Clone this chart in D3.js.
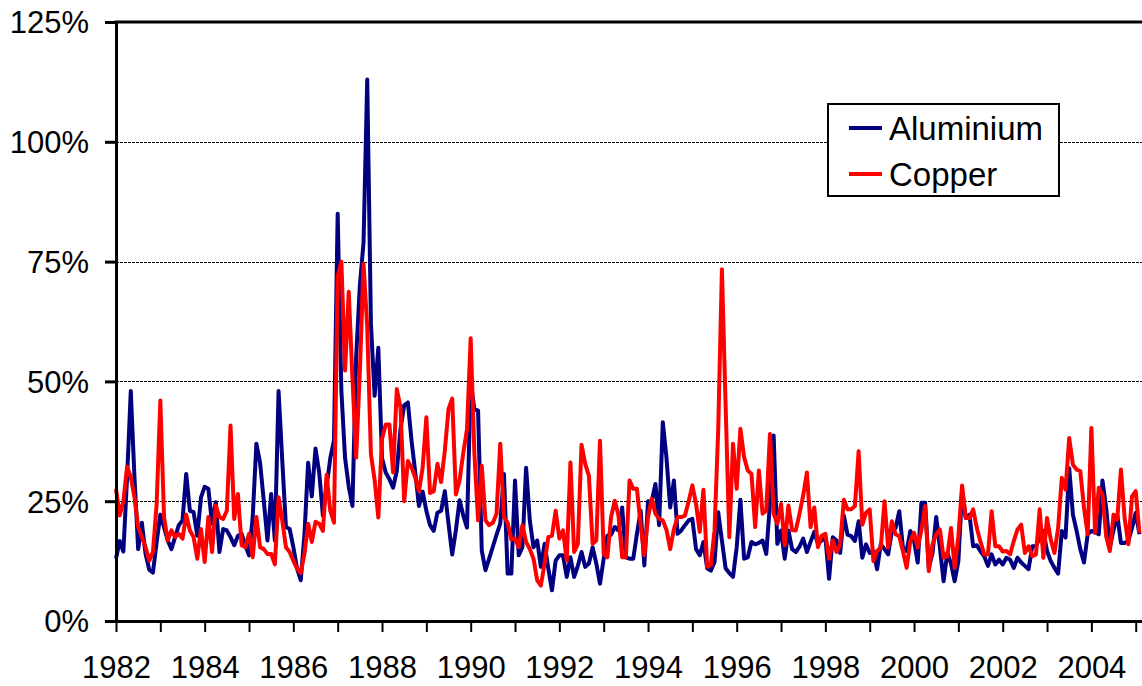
<!DOCTYPE html>
<html>
<head>
<meta charset="utf-8">
<script src="https://cdn.jsdelivr.net/npm/d3@7"></script>
<style>
  body { margin: 0; background: #fff; }
  svg text { font-family: "Liberation Sans", Arial, sans-serif; fill: #000; }
</style>
</head>
<body>
<div class="chart"></div>
<script>
// monthly volatility (%), Jan 1982 onwards
const aluminium = [
  13, 16.7, 14.5, 30, 48, 30, 15, 20.5, 14, 10.7, 10.1, 16.5,
  22.2, 19.6, 16.8, 15, 17.5, 20, 21, 30.7, 23, 22.7, 17.8, 25.8,
  28, 27.6, 20.3, 24.8, 14.4, 19.2, 18.9, 17.5, 15.8, 17.8, 18.2, 15.8,
  13.7, 21.7, 37, 33, 25.1, 16.8, 26.5, 16.8, 48, 33.5, 19.6, 19.2,
  15.4, 11, 8.5, 18, 33, 26, 36, 31, 22, 28, 34, 37.7,
  85, 48, 34, 28, 24, 55, 70, 79, 113, 62, 47, 57,
  34, 31, 29.6, 27.8, 31.3, 40, 45, 45.6, 37.6, 31, 24, 27,
  23, 20, 18.8, 22.6, 23, 27.1, 20.3, 13.9, 19, 25.2, 22, 19.5,
  50, 44.2, 43.9, 14.7, 10.6, 13, 15.5, 18, 20.3, 30.7, 9.9, 9.9,
  29.3, 13.7, 15.4, 32, 21, 15.4, 16.8, 11.3, 16.1, 11, 6.4, 12.6,
  13.7, 13.7, 9.2, 13.3, 9.2, 11.5, 14.4, 11.3, 12, 15.4, 12, 7.8,
  13, 17.8, 18, 19.6, 18.9, 23.7, 13.3, 13, 13, 18.2, 23, 11.6,
  25, 25, 28.6, 20, 41.5, 34, 23.7, 29.3, 18.2, 18.9, 20, 21,
  21.3, 15, 13.7, 16.5, 11, 10.5, 12.3, 22.7, 16.8, 11, 10, 9.2,
  15.4, 25.3, 13, 13.3, 16.5, 16, 16.3, 16.8, 14, 24.4, 38.7, 16.1,
  18.9, 13, 18.9, 15, 14.4, 15.5, 17.2, 14.4, 16.5, 18.6, 16.1, 16.8,
  17.5, 8.8, 17.5, 16.8, 14.2, 22, 18, 17.7, 16.7, 20.8, 13.2, 16,
  14.2, 14.6, 10.8, 16, 15, 13.9, 18.8, 19.4, 22.9, 15.3, 14.6, 18.8,
  16.7, 12.2, 24.7, 24.7, 11.1, 14.2, 21.7, 15.3, 8.3, 14.2, 12, 8.3,
  12.5, 27.1, 21.5, 22.2, 15.6, 15.8, 14.5, 13.5, 11.5, 13.9, 11.8, 12.8,
  11.8, 13.2, 12.8, 11.1, 13.2, 12.2, 11.5, 10.8, 15.6, 15.6, 17.4, 18.8,
  14.6, 12.5, 11.1, 9.9, 18.8, 17.4, 31.9, 22.2, 18.8, 15, 12.2, 18.1,
  18.8, 18.5, 18.1, 29.3, 23.6, 15.3, 19, 22.2, 16.3, 16.3, 16.7, 19.4,
  22.6, 18.1
];

const copper = [
  27.6, 22, 25, 32.2, 30, 25.8, 19.6, 17.5, 15.4, 12.6, 14.4, 24.4,
  46, 21.7, 16.8, 18.9, 17.5, 18.2, 17.2, 22.2, 18.9, 17.5, 13, 19.2,
  12.3, 21.7, 14.4, 24.1, 21.7, 21.3, 23, 40.8, 21.3, 26.5, 15.8, 15.4,
  18.2, 13.3, 21.7, 15.4, 15, 14, 14, 11.8, 25.8, 21, 15.4, 14.4,
  12.6, 10.9, 10, 14, 20.3, 16.5, 20.7, 20.3, 18.8, 30.5, 23, 20.5,
  72, 75, 52.3, 68.7, 50.6, 34.1, 52, 74.5, 61.3, 34.8, 29.4, 21.6,
  38, 41, 41, 31, 48.4, 44.6, 25, 33.4, 32, 29.9, 27.1, 32,
  42.5, 26.7, 27.1, 32.8, 29, 35.5, 44.2, 46.4, 26.4, 29.4, 35.1, 40,
  59, 35, 21, 32.4, 21, 20, 20.5, 22.4, 37, 21.7, 20.5, 17,
  17.2, 15.4, 20, 16.5, 15, 13, 8.5, 7.4, 12, 17.5, 17.8, 23,
  17.2, 18.9, 12.6, 33.1, 14.4, 16.1, 36.8, 32.8, 30.3, 16.1, 16.8, 37.6,
  14, 13.3, 21.7, 25.1, 22, 13.3, 13.3, 29.3, 27.6, 27.6, 20, 13.7,
  21.7, 25.5, 22.4, 21.3, 21, 19, 15, 19.2, 21.7, 21.7, 22, 25,
  28.3, 24.4, 18.6, 27.4, 11.3, 11.7, 18.9, 40, 73.4, 45, 17.5, 37,
  27.6, 40.1, 34.2, 31.4, 30.7, 19.6, 31.4, 22.4, 23, 39, 22.4, 20.3,
  24.4, 15.8, 24.1, 19, 18.9, 22.4, 26.2, 31, 19.6, 23.7, 15.4, 17.8,
  18.2, 13, 16.8, 14.4, 16, 25.3, 23.3, 23.3, 24, 35.4, 20.1, 22.6,
  23.3, 12.5, 14.6, 15.3, 25, 15.3, 20.8, 18.1, 17.7, 14.5, 11.1, 16.7,
  18.4, 15.3, 19, 24, 10.4, 16, 18.1, 19.1, 13.2, 13.5, 19.4, 11.1,
  17.7, 28.3, 21.5, 21.5, 23.3, 19.4, 16.5, 13.9, 13.9, 22.9, 15.6, 15.6,
  14.5, 14.6, 13.9, 16.7, 19.1, 20.1, 14.2, 15.6, 13.5, 13.9, 23.3, 13.2,
  21.5, 17, 14.2, 19.4, 29.9, 27.4, 38.2, 32.6, 31.6, 31.3, 23.6, 18.1,
  40.3, 18.4, 27.8, 26.4, 17.7, 14.6, 22.2, 21.2, 31.6, 21.5, 16, 26,
  27.1, 18.4
];

const seriesNames = ["Aluminium", "Copper"];
const seriesColors = ["#000080", "#ff0000"];
const yearLabels = [1982, 1984, 1986, 1988, 1990, 1992, 1994, 1996, 1998, 2000, 2002, 2004];
const yTicks = [0, 25, 50, 75, 100, 125];

drawChart(document.querySelector(".chart"));

function drawChart(container) {
    let width = 1142, height = 686;
    let margin = {top: 22, right: 0, bottom: 65, left: 116};
    let insideWidth = width - margin.left - margin.right;
    let insideHeight = height - margin.top - margin.bottom;

    let svg = d3.select(container).append("svg")
        .attr("width", width)
        .attr("height", height);
    let g = svg.append("g").attr("transform", "translate(" + margin.left + "," + margin.top + ")");

    // month index on x, the plot is cut off a bit after Jan 2005
    let xScale = d3.scaleLinear().domain([0, 277.7]).range([0, insideWidth]);
    let yScale = d3.scaleLinear().domain([0, 125]).range([insideHeight, 0]);

    // dashed gridlines
    g.selectAll(".grid")
        .data(yTicks.filter(d => d > 0 && d < 125))
        .enter().append("line")
        .attr("x1", 0).attr("x2", insideWidth)
        .attr("y1", d => Math.round(yScale(d)) + 0.5).attr("y2", d => Math.round(yScale(d)) + 0.5)
        .attr("stroke", "#000").attr("stroke-width", 1)
        .attr("stroke-dasharray", "3,1")
        .attr("shape-rendering", "crispEdges");

    // top border
    g.append("line")
        .attr("x1", -1.5).attr("x2", insideWidth)
        .attr("y1", yScale(125)).attr("y2", yScale(125))
        .attr("stroke", "#000").attr("stroke-width", 3);

    // series
    let line = d3.line()
        .x((d, i) => xScale(i))
        .y(d => yScale(d));

    [aluminium, copper].forEach(function(values, k) {
        g.append("path")
            .datum(values)
            .attr("fill", "none")
            .attr("stroke", seriesColors[k])
            .attr("stroke-width", 4)
            .attr("stroke-linejoin", "round")
            .attr("d", line);
    });

    // y axis
    let yAxis = g.append("g")
        .call(d3.axisLeft(yScale).tickValues(yTicks).tickSize(11).tickSizeOuter(0)
            .tickFormat(d => d + "%"));
    yAxis.select(".domain").attr("stroke-width", 3);
    yAxis.selectAll(".tick line").attr("stroke-width", 3);
    yAxis.selectAll(".tick text")
        .attr("x", -27)
        .attr("dy", "0.35em")
        .style("font-size", "31px");

    // x axis: yearly ticks, labels every other year
    let yearTicks = d3.range(0, 278, 12);
    let xAxis = g.append("g")
        .attr("transform", "translate(0," + insideHeight + ")")
        .call(d3.axisBottom(xScale).tickValues(yearTicks).tickSize(11).tickSizeOuter(0)
            .tickFormat(d => yearLabels.indexOf(1982 + d / 12) >= 0 ? String(1982 + d / 12) : ""));
    xAxis.select(".domain").attr("stroke-width", 3);
    xAxis.selectAll(".tick line").attr("stroke-width", 2);
    xAxis.selectAll(".tick text")
        .attr("y", 57)
        .attr("dy", 0)
        .style("font-size", "31px");

    // legend
    let legend = svg.append("g").attr("transform", "translate(828,104)");
    legend.append("rect")
        .attr("width", 231).attr("height", 92)
        .attr("fill", "#fff").attr("stroke", "#000").attr("stroke-width", 2);
    seriesNames.forEach(function(name, k) {
        let row = legend.append("g").attr("transform", "translate(0," + (24 + k * 46) + ")");
        row.append("line")
            .attr("x1", 21).attr("x2", 54)
            .attr("stroke", seriesColors[k]).attr("stroke-width", 4);
        row.append("text")
            .attr("x", 61).attr("y", 12)
            .style("font-size", "33px")
            .text(name);
    });
}
</script>
</body>
</html>
